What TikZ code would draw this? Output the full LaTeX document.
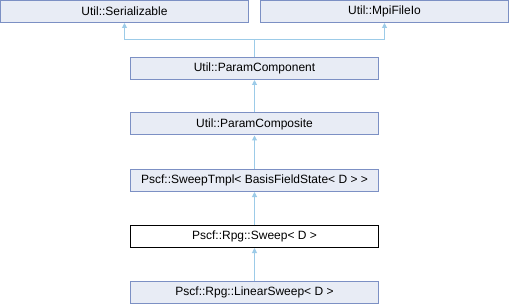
\documentclass[tikz,border=0pt]{standalone}
\usepackage{fontspec}
\setmainfont{Liberation Sans}
\usetikzlibrary{positioning,arrows.meta}
\definecolor{boxfill}{HTML}{E8ECF5}
\definecolor{boxline}{HTML}{7C90C4}
\definecolor{edgeblue}{HTML}{9CCBE8}

\begin{document}
\begin{tikzpicture}[x=1pt,y=-1pt,>={Triangle[length=5pt,width=5pt]}]
\tikzset{cls/.style={draw=boxline,fill=boxfill,line width=1pt,minimum width=248pt,minimum height=22pt,inner sep=0pt,font=\fontsize{12}{14}\selectfont},
  edge/.style={draw=edgeblue,line width=1pt}}
\useasboundingbox (0,0) rectangle (510,304);
% base classes
\node[cls] (ser) at (124.5,11.5) {Util::Serializable};
\node[cls] (mpi) at (384.5,11.5) {Util::MpiFileIo};
% chain of derived classes
\node[cls] (comp) at (254.5,68.5) {Util::ParamComponent};
\node[cls] (compo) at (254.5,124) {Util::ParamComposite};
\node[cls] (tmpl) at (254.5,180.5) {Pscf::SweepTmpl< BasisFieldState< D > >};
\node[cls,draw=black,fill=white] (sweep) at (254.5,236.5) {Pscf::Rpg::Sweep< D >};
\node[cls] (lin) at (254.5,292.5) {Pscf::Rpg::LinearSweep< D >};

\coordinate (split) at (254.5,40);
\draw[edge] (comp.north) -- (split);
\draw[edge,->] (split) -| (ser.south);
\draw[edge,->] (split) -| (mpi.south);
\draw[edge,->] (compo) -- (comp);
\draw[edge,->] (tmpl) -- (compo);
\draw[edge,->] (sweep) -- (tmpl);
\draw[edge,->] (lin) -- (sweep);
\end{tikzpicture}
\end{document}
